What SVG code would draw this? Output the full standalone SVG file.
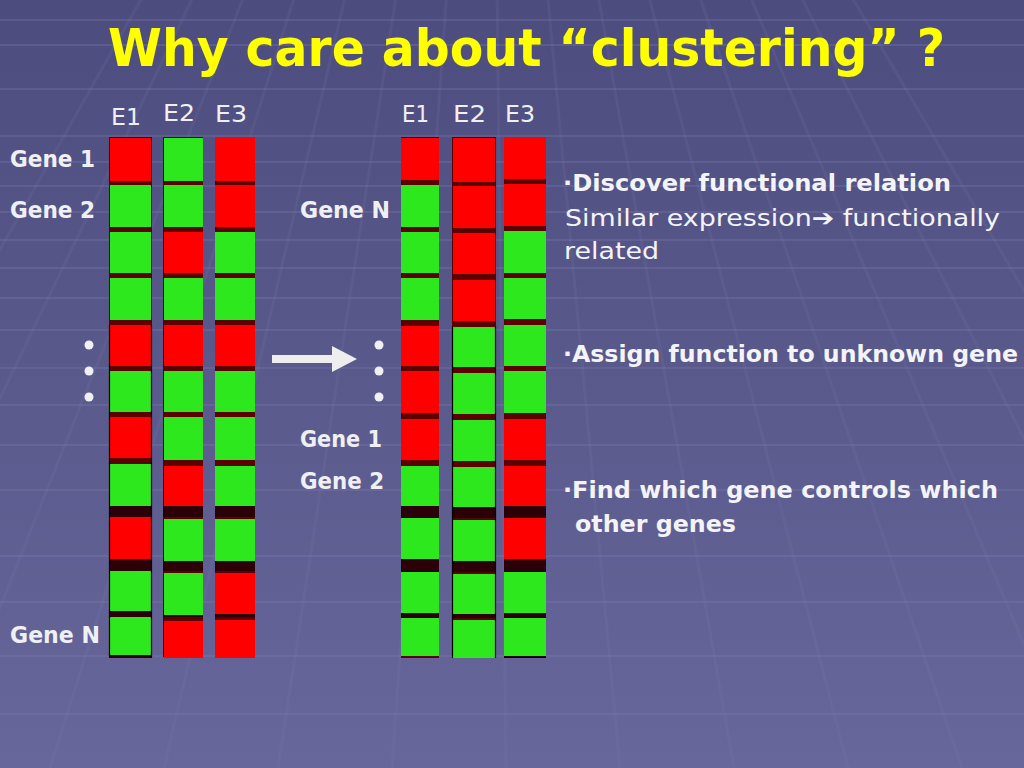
<svg xmlns="http://www.w3.org/2000/svg" width="1024" height="768" viewBox="0 0 1024 768">
<defs>
<linearGradient id="bg" x1="0" y1="0" x2="0" y2="1">
<stop offset="0" stop-color="#4c4c7e"/>
<stop offset="1" stop-color="#67679b"/>
</linearGradient>
</defs>
<style>
.r{fill:#ff0000}
.g{fill:#2ee81e}
.sep{fill:#5c0000}
.thk{fill:#2c0008}
.edge{stroke:#000;stroke-width:1.2}
.hl{stroke:#8080b4;stroke-width:2;opacity:0.28}
.vl{stroke:#8080b4;stroke-width:3;opacity:0.14}
.lbl{font-family:"DejaVu Sans",sans-serif;font-size:23px;fill:#f0f0f4}
.b{font-weight:bold}
.txt{font-family:"DejaVu Sans",sans-serif;font-size:23px;fill:#f4f4f8}
.dot{fill:#f0f0f4}
</style>
<rect width="1024" height="768" fill="url(#bg)"/>
<g id="grid">
<line class="hl" x1="0" y1="20" x2="1024" y2="20"/>
<line class="hl" x1="0" y1="45" x2="1024" y2="45"/>
<line class="hl" x1="0" y1="89" x2="1024" y2="89"/>
<line class="hl" x1="0" y1="136" x2="1024" y2="136"/>
<line class="hl" x1="0" y1="162" x2="1024" y2="162"/>
<line class="hl" x1="0" y1="186" x2="1024" y2="186"/>
<line class="hl" x1="0" y1="212" x2="1024" y2="212"/>
<line class="hl" x1="0" y1="240" x2="1024" y2="240"/>
<line class="hl" x1="0" y1="268" x2="1024" y2="268"/>
<line class="hl" x1="0" y1="298" x2="1024" y2="298"/>
<line class="hl" x1="0" y1="330" x2="1024" y2="330"/>
<line class="hl" x1="0" y1="368" x2="1024" y2="368"/>
<line class="hl" x1="0" y1="405" x2="1024" y2="405"/>
<line class="hl" x1="0" y1="445" x2="1024" y2="445"/>
<line class="hl" x1="0" y1="490" x2="1024" y2="490"/>
<line class="hl" x1="0" y1="556" x2="1024" y2="556"/>
<line class="hl" x1="0" y1="602" x2="1024" y2="602"/>
<line class="hl" x1="0" y1="656" x2="1024" y2="656"/>
<line class="hl" x1="0" y1="714" x2="1024" y2="714"/>
<line class="vl" x1="490" y1="-620" x2="-292" y2="768"/>
<line class="vl" x1="490" y1="-620" x2="-178" y2="768"/>
<line class="vl" x1="490" y1="-620" x2="-64" y2="768"/>
<line class="vl" x1="490" y1="-620" x2="50" y2="768"/>
<line class="vl" x1="490" y1="-620" x2="164" y2="768"/>
<line class="vl" x1="490" y1="-620" x2="278" y2="768"/>
<line class="vl" x1="490" y1="-620" x2="392" y2="768"/>
<line class="vl" x1="490" y1="-620" x2="506" y2="768"/>
<line class="vl" x1="490" y1="-620" x2="620" y2="768"/>
<line class="vl" x1="490" y1="-620" x2="734" y2="768"/>
<line class="vl" x1="490" y1="-620" x2="848" y2="768"/>
<line class="vl" x1="490" y1="-620" x2="962" y2="768"/>
<line class="vl" x1="490" y1="-620" x2="1076" y2="768"/>
<line class="vl" x1="490" y1="-620" x2="1190" y2="768"/>
<line class="vl" x1="490" y1="-620" x2="1304" y2="768"/>
</g>
<g id="title">
<text x="108" y="66" font-family="'DejaVu Sans',sans-serif" font-weight="bold" font-size="51" fill="#ffff00" textLength="837" lengthAdjust="spacingAndGlyphs">Why care about “clustering” ?</text>
</g>
<g id="left-labels">
<text class="lbl" x="111" y="125" textLength="30" lengthAdjust="spacingAndGlyphs">E1</text>
<text class="lbl" x="163" y="121" textLength="32" lengthAdjust="spacingAndGlyphs">E2</text>
<text class="lbl" x="215" y="122" textLength="32" lengthAdjust="spacingAndGlyphs">E3</text>
<text class="lbl b" x="10" y="167" textLength="85" lengthAdjust="spacingAndGlyphs">Gene 1</text>
<text class="lbl b" x="10" y="218" textLength="85" lengthAdjust="spacingAndGlyphs">Gene 2</text>
<text class="lbl b" x="10" y="643" textLength="90" lengthAdjust="spacingAndGlyphs">Gene N</text>
<circle class="dot" cx="89" cy="345" r="4.5"/>
<circle class="dot" cx="89" cy="371" r="4.5"/>
<circle class="dot" cx="89" cy="397" r="4.5"/>
</g>
<g id="left-matrix">
<rect class="sep" x="109" y="137" width="43" height="520"/>
<rect class="sep" x="163" y="137" width="40" height="520"/>
<rect class="sep" x="215" y="137" width="40" height="520"/>
<rect class="thk" x="109" y="506" width="43" height="11"/>
<rect class="thk" x="163" y="506" width="40" height="11"/>
<rect class="thk" x="215" y="506" width="40" height="11"/>
<rect class="thk" x="109" y="559" width="43" height="12"/>
<rect class="thk" x="163" y="559" width="40" height="12"/>
<rect class="thk" x="215" y="559" width="40" height="12"/>
<rect class="thk" x="109" y="611" width="43" height="6"/>
<rect class="thk" x="163" y="611" width="40" height="6"/>
<rect class="thk" x="215" y="611" width="40" height="6"/>
<rect class="thk" x="109" y="655" width="43" height="3"/>
<!-- col1: R G G G R G R G R G G -->
<rect class="r" x="110" y="138" width="41" height="43"/>
<rect class="g" x="110" y="185" width="41" height="42"/>
<rect class="g" x="110" y="232" width="41" height="41"/>
<rect class="g" x="110" y="278" width="41" height="42"/>
<rect class="r" x="110" y="325" width="41" height="41"/>
<rect class="g" x="110" y="371" width="41" height="41"/>
<rect class="r" x="110" y="417" width="41" height="41"/>
<rect class="g" x="110" y="464" width="41" height="42"/>
<rect class="r" x="110" y="517" width="41" height="42"/>
<rect class="g" x="110" y="571" width="41" height="40"/>
<rect class="g" x="110" y="617" width="41" height="38"/>
<line class="edge" x1="109.5" y1="325" x2="109.5" y2="657"/>
<line class="edge" x1="151.5" y1="325" x2="151.5" y2="657"/>
<!-- col2: G G R G R G G R G G R -->
<rect class="g" x="164" y="138" width="39" height="43"/>
<rect class="g" x="164" y="185" width="39" height="42"/>
<rect class="r" x="164" y="232" width="39" height="41"/>
<rect class="g" x="164" y="278" width="39" height="42"/>
<rect class="r" x="164" y="325" width="39" height="41"/>
<rect class="g" x="164" y="371" width="39" height="41"/>
<rect class="g" x="164" y="417" width="39" height="43"/>
<rect class="r" x="164" y="466" width="39" height="40"/>
<rect class="g" x="164" y="519" width="39" height="42"/>
<rect class="g" x="164" y="573" width="39" height="42"/>
<rect class="r" x="164" y="621" width="39" height="37"/>
<!-- col3: R R G G R G G G G R R -->
<rect class="r" x="215" y="137" width="40" height="44"/>
<rect class="r" x="215" y="185" width="40" height="42"/>
<rect class="g" x="215" y="232" width="40" height="41"/>
<rect class="g" x="215" y="278" width="40" height="42"/>
<rect class="r" x="215" y="325" width="40" height="41"/>
<rect class="g" x="215" y="371" width="40" height="41"/>
<rect class="g" x="215" y="417" width="40" height="43"/>
<rect class="g" x="215" y="466" width="40" height="40"/>
<rect class="g" x="215" y="519" width="40" height="42"/>
<rect class="r" x="215" y="573" width="40" height="41"/>
<rect class="r" x="215" y="620" width="40" height="38"/>
</g>
<g id="connectors">
<rect x="272" y="355" width="62" height="8" fill="#eeeeee"/>
<polygon points="332,346 357,359 332,372" fill="#eeeeee"/>
</g>
<g id="right-labels">
<text class="lbl" x="402" y="122" textLength="27" lengthAdjust="spacingAndGlyphs">E1</text>
<text class="lbl" x="453" y="122" textLength="33" lengthAdjust="spacingAndGlyphs">E2</text>
<text class="lbl" x="505" y="122" textLength="30" lengthAdjust="spacingAndGlyphs">E3</text>
<text class="lbl b" x="300" y="218" textLength="90" lengthAdjust="spacingAndGlyphs">Gene N</text>
<text class="lbl b" x="300" y="447" textLength="82" lengthAdjust="spacingAndGlyphs">Gene 1</text>
<text class="lbl b" x="300" y="489" textLength="84" lengthAdjust="spacingAndGlyphs">Gene 2</text>
<circle class="dot" cx="379" cy="345" r="4.5"/>
<circle class="dot" cx="379" cy="371" r="4.5"/>
<circle class="dot" cx="379" cy="397" r="4.5"/>
</g>
<g id="right-matrix">
<rect class="sep" x="401" y="137" width="38" height="521"/>
<rect class="sep" x="452" y="137" width="44" height="521"/>
<rect class="sep" x="504" y="137" width="42" height="521"/>
<rect class="thk" x="401" y="506" width="38" height="12"/>
<rect class="thk" x="452" y="506" width="44" height="12"/>
<rect class="thk" x="504" y="506" width="42" height="12"/>
<rect class="thk" x="401" y="559" width="38" height="13"/>
<rect class="thk" x="452" y="559" width="44" height="13"/>
<rect class="thk" x="504" y="559" width="42" height="13"/>
<rect class="thk" x="401" y="613" width="38" height="5"/>
<rect class="thk" x="452" y="613" width="44" height="5"/>
<rect class="thk" x="504" y="613" width="42" height="5"/>
<!-- col1: R G G G R R R G G G G -->
<rect class="r" x="401" y="138" width="38" height="42"/>
<rect class="g" x="401" y="185" width="38" height="42"/>
<rect class="g" x="401" y="232" width="38" height="41"/>
<rect class="g" x="401" y="278" width="38" height="42"/>
<rect class="r" x="401" y="326" width="38" height="40"/>
<rect class="r" x="401" y="371" width="38" height="42"/>
<rect class="r" x="401" y="419" width="38" height="41"/>
<rect class="g" x="401" y="466" width="38" height="40"/>
<rect class="g" x="401" y="518" width="38" height="41"/>
<rect class="g" x="401" y="572" width="38" height="41"/>
<rect class="g" x="401" y="618" width="38" height="38"/>
<!-- col2: R R R R G G G G G G G -->
<rect class="r" x="453" y="138" width="42" height="44"/>
<rect class="r" x="453" y="186" width="42" height="42"/>
<rect class="r" x="453" y="233" width="42" height="41"/>
<rect class="r" x="453" y="280" width="42" height="41"/>
<rect class="g" x="453" y="327" width="42" height="40"/>
<rect class="g" x="453" y="373" width="42" height="41"/>
<rect class="g" x="453" y="420" width="42" height="41"/>
<rect class="g" x="453" y="467" width="42" height="40"/>
<rect class="g" x="453" y="520" width="42" height="41"/>
<rect class="g" x="453" y="574" width="42" height="40"/>
<rect class="g" x="453" y="620" width="42" height="38"/>
<line class="edge" x1="452.5" y1="326" x2="452.5" y2="658"/>
<line class="edge" x1="495.5" y1="326" x2="495.5" y2="658"/>
<!-- col3: R R G G G G R R R G G -->
<rect class="r" x="504" y="137" width="42" height="42"/>
<rect class="r" x="504" y="184" width="42" height="42"/>
<rect class="g" x="504" y="231" width="42" height="42"/>
<rect class="g" x="504" y="278" width="42" height="41"/>
<rect class="g" x="504" y="325" width="42" height="41"/>
<rect class="g" x="504" y="371" width="42" height="42"/>
<rect class="r" x="504" y="419" width="42" height="41"/>
<rect class="r" x="504" y="466" width="42" height="40"/>
<rect class="r" x="504" y="518" width="42" height="41"/>
<rect class="g" x="504" y="572" width="42" height="41"/>
<rect class="g" x="504" y="618" width="42" height="38"/>
<line x1="504" y1="657" x2="546" y2="657" stroke="#000" stroke-width="1.5"/>
</g>
<g id="points">
<text class="txt b" x="563" y="191" textLength="388" lengthAdjust="spacingAndGlyphs">·Discover functional relation</text>
<text class="txt" x="565" y="226" textLength="435" lengthAdjust="spacingAndGlyphs">Similar expression➔ functionally</text>
<text class="txt" x="564" y="259" textLength="95" lengthAdjust="spacingAndGlyphs">related</text>
<text class="txt b" x="563" y="362" textLength="455" lengthAdjust="spacingAndGlyphs">·Assign function to unknown gene</text>
<text class="txt b" x="563" y="498" textLength="435" lengthAdjust="spacingAndGlyphs">·Find which gene controls which</text>
<text class="txt b" x="575" y="532" textLength="161" lengthAdjust="spacingAndGlyphs">other genes</text>
</g>
</svg>
